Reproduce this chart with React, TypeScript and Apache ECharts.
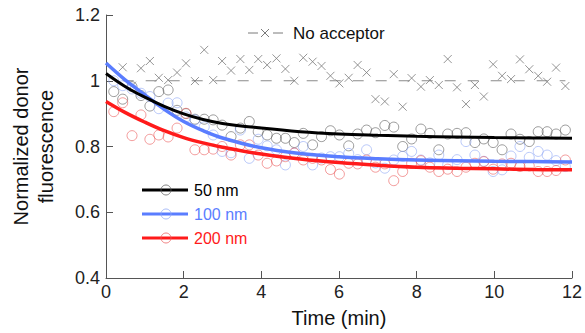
import React, { useEffect, useRef } from "react";
import * as echarts from "echarts";

// Sample times (min)
const times = [
  0.2, 0.43, 0.67, 0.9, 1.13, 1.36, 1.6, 1.83, 2.06, 2.29, 2.53, 2.76, 2.99, 3.22, 3.46, 3.69,
  3.92, 4.15, 4.39, 4.62, 4.85, 5.08, 5.32, 5.55, 5.78, 6.01, 6.25, 6.48, 6.71, 6.94, 7.18, 7.41,
  7.64, 7.87, 8.11, 8.34, 8.57, 8.8, 9.04, 9.27, 9.5, 9.73, 9.97, 10.2, 10.43, 10.66, 10.9, 11.13,
  11.36, 11.59, 11.83,
];

const noAcceptor = [
  null, 1.041, 0.985, 1.038, 1.06, 1.009, 1.002, 1.025, 1.053, 0.999, 1.094, 1.002, 1.06, 1.031,
  1.066, 1.033, 1.066, 1.048, 1.068, 1.036, 1.0, 1.07, 1.058, 1.045, 1.015, 0.992, 1.009, 1.048,
  1.025, 0.944, 0.937, 1.02, 0.921, 1.008, 0.982, 1.002, 0.987, 1.066, 0.98, 0.929, 0.987, 0.952,
  1.05, 1.015, 1.005, 1.065, 1.035, 1.015, 0.997, 1.04, 0.984,
];

const nm50 = [
  0.967, 0.944, 0.982, 0.955, 0.923, 0.967, 0.972, 0.91, 0.9, 0.883, 0.883, 0.881, 0.865, 0.83,
  0.856, 0.876, 0.845, 0.835, 0.825, 0.825, 0.812, 0.84, 0.805, 0.83, 0.848, 0.835, 0.802, 0.838,
  0.85, 0.842, 0.864, 0.859, 0.8, 0.823, 0.853, 0.84, 0.79, 0.838, 0.84, 0.842, 0.812, 0.823,
  0.812, 0.79, 0.838, 0.822, 0.815, 0.845, 0.845, 0.838, 0.85,
];

const nm100 = [
  1.0, 0.985, 0.975, 0.962, 0.952, 0.915, 0.932, 0.933, 0.89, 0.881, 0.86, 0.835, 0.785, 0.781,
  0.85, 0.764, 0.822, 0.802, 0.79, 0.744, 0.78, 0.8, 0.744, 0.765, 0.769, 0.769, 0.779, 0.76,
  0.79, 0.75, 0.734, 0.759, 0.77, 0.785, 0.759, 0.75, 0.774, 0.745, 0.76, 0.815, 0.774, 0.755,
  0.724, 0.729, 0.771, 0.8, 0.767, 0.785, 0.774, 0.757, 0.739,
];

const nm200 = [
  0.906, 0.933, 0.833, 0.896, 0.822, 0.835, 0.829, 0.856, 0.901, 0.79, 0.79, 0.792, 0.8, 0.774,
  0.805, 0.805, 0.774, 0.749, 0.756, 0.769, 0.78, 0.759, 0.764, 0.759, 0.73, 0.716, 0.749, 0.747,
  0.759, 0.737, 0.747, 0.696, 0.724, 0.749, 0.757, 0.737, 0.724, 0.731, 0.724, 0.737, 0.749,
  0.754, 0.731, 0.747, 0.749, 0.739, 0.741, 0.724, 0.724, 0.727, 0.759,
];

// Fitted curves
const fitTimes = [0, 0.5, 1, 1.5, 2, 2.5, 3, 4, 5, 6, 7, 8, 9, 10, 11, 12];
const fit50 = [1.022, 0.982, 0.95, 0.922, 0.899, 0.882, 0.87, 0.856, 0.845, 0.838, 0.834, 0.831, 0.829, 0.827, 0.826, 0.825];
const fit100 = [1.054, 1.002, 0.957, 0.913, 0.876, 0.848, 0.826, 0.796, 0.779, 0.769, 0.763, 0.759, 0.757, 0.755, 0.754, 0.753];
const fit200 = [0.937, 0.903, 0.874, 0.848, 0.827, 0.811, 0.798, 0.777, 0.762, 0.751, 0.743, 0.737, 0.734, 0.732, 0.73, 0.729];

// Mean of the no-acceptor control
const meanTimes = [0.43, 11.83];
const meanValues = [1.0, 1.0];

const xTicks = { min: 0, max: 12, interval: 2 };
const yTicks = { min: 0.4, max: 1.2, interval: 0.2 };

const FONT = "Liberation Sans, Arial, sans-serif";
const BLACK = "#000000";
const BLUE = "#5a7dff";
const RED = "#ff1a1a";
const GRAY_C = "rgba(90,90,90,0.75)";
const BLUE_C = "rgba(140,165,245,0.75)";
const RED_C = "rgba(235,90,90,0.75)";
const CROSS = "#7a7a7a";

const pairs = (xs: number[], ys: (number | null)[]) =>
  xs.map((x, i) => [x, ys[i]]).filter((p) => p[1] !== null);

export default function App() {
  const ref = useRef<HTMLDivElement>(null);
  useEffect(() => {
    if (!ref.current) return;
    const chart = echarts.init(ref.current, undefined, { renderer: "svg" });
    const circle = (name: string, data: any[], color: string) => ({
      name,
      type: "scatter",
      data,
      symbol: "circle",
      symbolSize: 10,
      itemStyle: { color: "rgba(0,0,0,0)", borderColor: color, borderWidth: 1 },
      z: 2,
    });
    const fit = (name: string, data: any[], color: string, width: number) => ({
      name,
      type: "line",
      data,
      smooth: 0.4,
      showSymbol: false,
      lineStyle: { color, width },
      z: 3,
    });
    const legendRow = (y: number, label: string, lineColor: string, circColor: string) => [
      { type: "line", shape: { x1: 142, y1: y, x2: 188, y2: y }, style: { stroke: lineColor, lineWidth: 3 } },
      { type: "circle", shape: { cx: 166, cy: y, r: 5 }, style: { fill: "none", stroke: circColor, lineWidth: 1 } },
      {
        type: "text",
        x: 194,
        y,
        style: { text: label, fill: lineColor, font: `16px ${FONT}`, verticalAlign: "middle", align: "left" },
      },
    ];
    chart.setOption({
      animation: false,
      backgroundColor: "#ffffff",
      grid: { left: 101, right: 12, top: 15, bottom: 55, containLabel: false },
      xAxis: {
        type: "value",
        ...xTicks,
        name: "Time (min)",
        nameLocation: "middle",
        nameGap: 30,
        nameTextStyle: { fontFamily: FONT, fontSize: 20, color: "#111" },
        axisLine: { show: true, lineStyle: { color: "#555", width: 1 } },
        axisTick: { show: true, inside: true, length: 7, lineStyle: { color: "#555" } },
        axisLabel: { fontFamily: FONT, fontSize: 18, color: "#222", margin: 5 },
        splitLine: { show: false },
      },
      yAxis: {
        type: "value",
        ...yTicks,
        name: "Normalized donor\nfluorescence",
        nameLocation: "middle",
        nameRotate: 90,
        nameGap: 48,
        nameTextStyle: { fontFamily: FONT, fontSize: 20, color: "#111", lineHeight: 25 },
        axisLine: { show: true, lineStyle: { color: "#555", width: 1 } },
        axisTick: { show: true, inside: true, length: 7, lineStyle: { color: "#555" } },
        axisLabel: { fontFamily: FONT, fontSize: 18, color: "#222", margin: 6 },
        splitLine: { show: false },
      },
      series: [
        {
          name: "No acceptor",
          type: "scatter",
          data: pairs(times, noAcceptor),
          symbol: "path://M0 0L10 10M10 0L0 10",
          symbolSize: 8,
          itemStyle: { color: "rgba(0,0,0,0)", borderColor: CROSS, borderWidth: 1 },
          z: 2,
        },
        {
          name: "No acceptor mean",
          type: "line",
          data: pairs(meanTimes, meanValues),
          showSymbol: false,
          lineStyle: { color: "#8a8a8a", width: 1, type: [11, 12] },
          z: 1,
        },
        circle("50 nm points", pairs(times, nm50), GRAY_C),
        circle("100 nm points", pairs(times, nm100), BLUE_C),
        circle("200 nm points", pairs(times, nm200), RED_C),
        fit("100 nm", pairs(fitTimes, fit100), BLUE, 3.5),
        fit("200 nm", pairs(fitTimes, fit200), RED, 3.5),
        fit("50 nm", pairs(fitTimes, fit50), BLACK, 3),
      ],
      graphic: [
        { type: "line", shape: { x1: 248, y1: 33, x2: 258, y2: 33 }, style: { stroke: CROSS, lineWidth: 1 } },
        { type: "line", shape: { x1: 261, y1: 29, x2: 269, y2: 37 }, style: { stroke: CROSS, lineWidth: 1 } },
        { type: "line", shape: { x1: 269, y1: 29, x2: 261, y2: 37 }, style: { stroke: CROSS, lineWidth: 1 } },
        { type: "line", shape: { x1: 273, y1: 33, x2: 283, y2: 33 }, style: { stroke: CROSS, lineWidth: 1 } },
        {
          type: "text",
          x: 293,
          y: 33,
          style: { text: "No acceptor", fill: "#111", font: `17px ${FONT}`, verticalAlign: "middle", align: "left" },
        },
        ...legendRow(190, "50 nm", BLACK, GRAY_C),
        ...legendRow(214, "100 nm", BLUE, BLUE_C),
        ...legendRow(238, "200 nm", RED, RED_C),
      ],
    });
    return () => chart.dispose();
  }, []);
  return (
    <div
      ref={ref}
      style={{ position: "fixed", left: 0, top: 0, width: 585, height: 333, background: "#fff" }}
    />
  );
}
